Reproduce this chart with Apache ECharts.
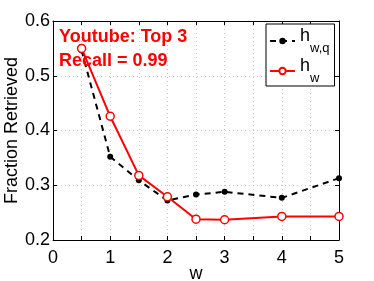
<!DOCTYPE html>
<html>
<head>
<meta charset="utf-8">
<script src="https://cdn.jsdelivr.net/npm/echarts@6/dist/echarts.min.js"></script>
<style>html,body{margin:0;padding:0;background:#fff}#c{width:374px;height:281px}</style>
</head>
<body>
<div id="c"></div>
<script>
const wValues = [0.5, 1, 1.5, 2, 2.5, 3, 4, 5];
const hwq = [0.546, 0.352, 0.309, 0.272, 0.283, 0.288, 0.277, 0.313];
const hw = [0.550, 0.426, 0.318, 0.279, 0.238, 0.237, 0.243, 0.243];
const seriesNames = ['hwq', 'hw'];
const annotation = ['Youtube: Top 3', 'Recall = 0.99'];
const xTitle = 'w';
const yTitle = 'Fraction Retrieved';

const FONT = 'Liberation Sans, Arial, Helvetica, sans-serif';
const chart = echarts.init(document.getElementById('c'), null, {renderer: 'canvas'});
const gridLine = {show: true, lineStyle: {color: '#c8c8c8', type: [1, 3], width: 1}};
chart.setOption({
  animation: false,
  backgroundColor: '#fff',
  title: {
    text: annotation.join('\n'),
    left: 59, top: 25, padding: 0,
    textStyle: {color: '#ff0000', fontWeight: 'bold', fontSize: 18, lineHeight: 24, fontFamily: FONT}
  },
  grid: {left: 53, right: 35, top: 21, bottom: 41, show: false, outerBoundsMode: 'none', containLabel: false},
  legend: {
    orient: 'vertical', left: 266, top: 24,
    padding: [3, 5, 1, 3],
    itemGap: 2,
    itemWidth: 25, itemHeight: 8,
    borderColor: '#000', borderWidth: 1, backgroundColor: '#fff',
    data: seriesNames,
    formatter: function (n) { return n === 'hwq' ? '{m|h}{s|w,q}' : '{m|h}{s|w}'; },
    textStyle: {
      color: '#000', fontFamily: FONT,
      rich: {
        m: {fontSize: 18, fontFamily: FONT, color: '#000', lineHeight: 22, verticalAlign: 'top'},
        s: {fontSize: 13, fontFamily: FONT, color: '#000', lineHeight: 28, verticalAlign: 'bottom'}
      }
    }
  },
  xAxis: [{
    type: 'value', min: 0, max: 5, interval: 0.5,
    name: xTitle, nameLocation: 'middle', nameGap: 25, nameMoveOverlap: false,
    nameTextStyle: {fontSize: 18, fontFamily: FONT, color: '#000'},
    axisLine: {show: true, onZero: false, lineStyle: {color: '#000', width: 1}},
    axisTick: {show: true, inside: true, length: 4, lineStyle: {color: '#000'}},
    axisLabel: {fontSize: 18, fontFamily: FONT, color: '#000', margin: 9,
      formatter: function (v) { return Number.isInteger(v) ? String(v) : ''; }},
    splitLine: gridLine
  }, {
    type: 'value', min: 0, max: 5, interval: 0.5, position: 'top',
    axisLine: {show: true, onZero: false, lineStyle: {color: '#000', width: 1}},
    axisTick: {show: true, inside: true, length: 4, lineStyle: {color: '#000'}},
    axisLabel: {show: false}, splitLine: {show: false}
  }],
  yAxis: [{
    type: 'value', min: 0.2, max: 0.6, interval: 0.1,
    name: yTitle, nameLocation: 'middle', nameGap: 32, nameMoveOverlap: false,
    nameTextStyle: {fontSize: 18, fontFamily: FONT, color: '#000'},
    axisLine: {show: true, onZero: false, lineStyle: {color: '#000', width: 1}},
    axisTick: {show: true, inside: true, length: 4, lineStyle: {color: '#000'}},
    axisLabel: {fontSize: 18, fontFamily: FONT, color: '#000', margin: 3,
      formatter: function (v) { return v.toFixed(1); }},
    splitLine: gridLine
  }, {
    type: 'value', min: 0.2, max: 0.6, interval: 0.1, position: 'right',
    axisLine: {show: true, onZero: false, lineStyle: {color: '#000', width: 1}},
    axisTick: {show: true, inside: true, length: 4, lineStyle: {color: '#000'}},
    axisLabel: {show: false}, splitLine: {show: false}
  }],
  series: [{
    name: 'hwq', type: 'line',
    data: wValues.map((x, i) => [x, hwq[i]]),
    symbol: 'circle', symbolSize: 6,
    lineStyle: {color: '#000', width: 2, type: [6, 5]},
    itemStyle: {color: '#000', borderColor: '#000', borderWidth: 0}
  }, {
    name: 'hw', type: 'line',
    data: wValues.map((x, i) => [x, hw[i]]),
    symbol: 'circle', symbolSize: 8,
    lineStyle: {color: '#ff0000', width: 2},
    itemStyle: {color: '#fff', borderColor: '#ff0000', borderWidth: 1.5}
  }]
});
</script>
</body>
</html>
